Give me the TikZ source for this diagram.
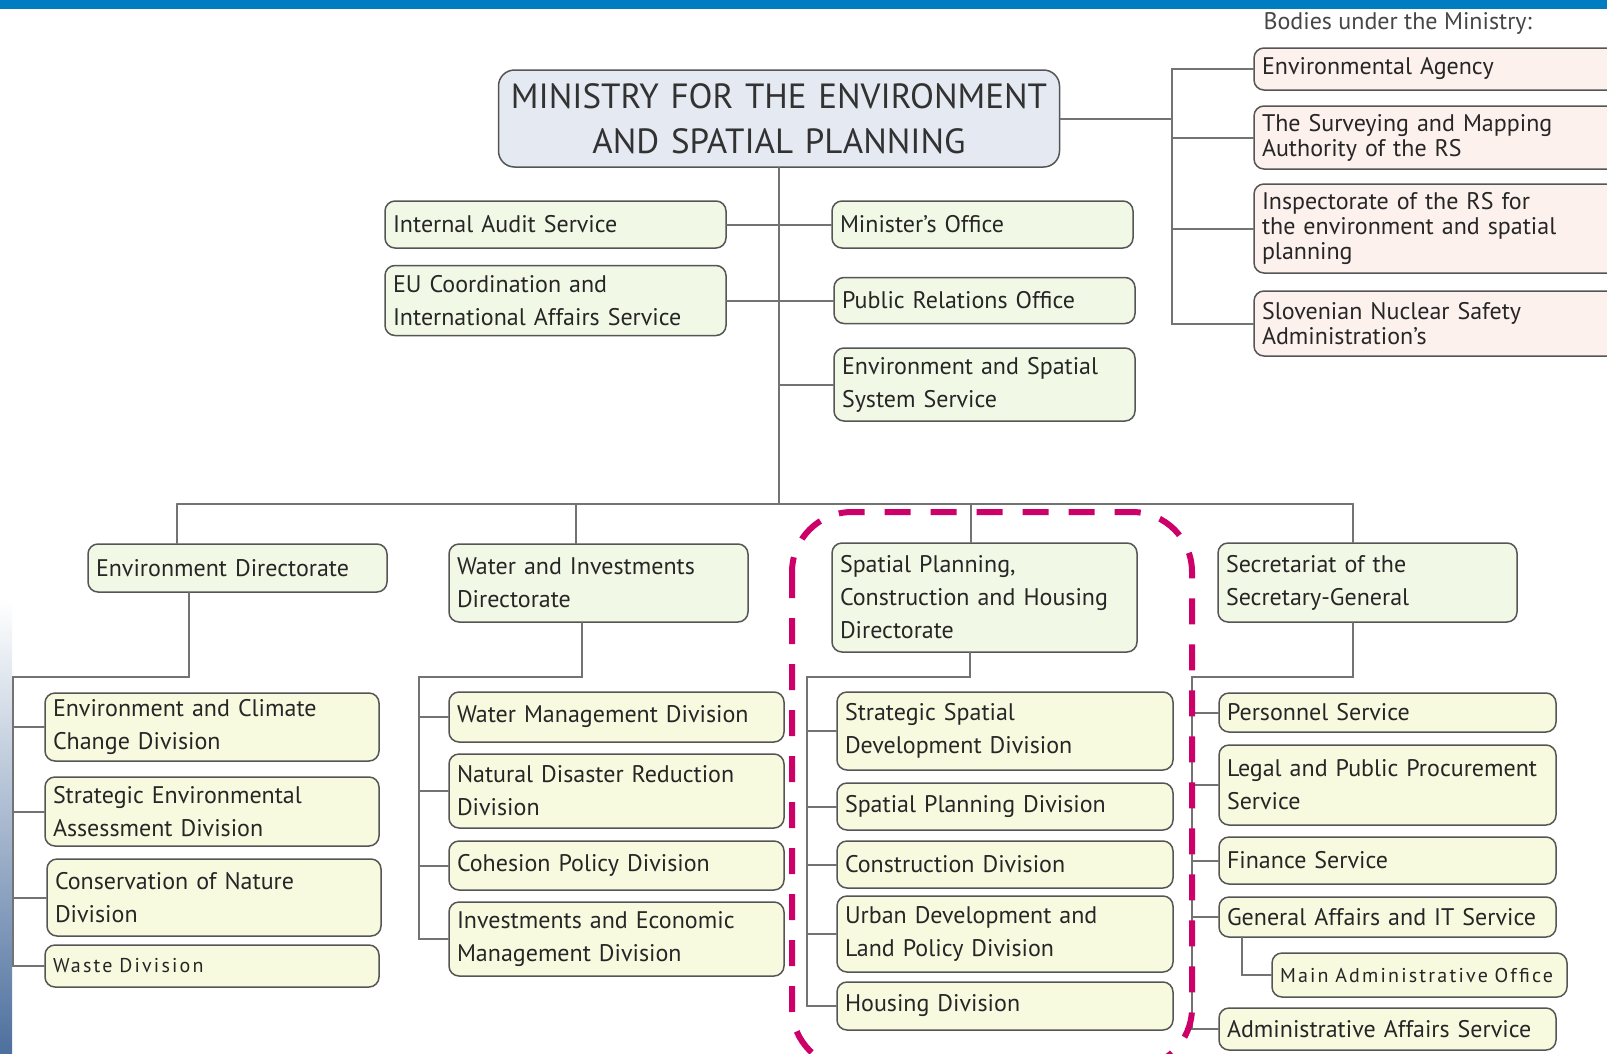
\documentclass[tikz,border=0pt]{standalone}
\usepackage{fontspec}
\setmainfont{PT Sans}
\definecolor{lan}{RGB}{0,125,192}
\definecolor{tiaolan}{RGB}{78,112,158}
\definecolor{bianhui}{RGB}{85,85,85}
\definecolor{xianhui}{RGB}{115,115,115}
\definecolor{zi}{RGB}{38,38,38}
\definecolor{buse}{RGB}{228,233,242}
\definecolor{qingse}{RGB}{242,248,230}
\definecolor{huangse}{RGB}{248,250,223}
\definecolor{fense}{RGB}{253,241,237}
\definecolor{hong}{RGB}{205,0,105}

\begin{document}
\begin{tikzpicture}[x=1pt,y=-1pt,line cap=round]
	\tikzstyle{kuang}=[draw=bianhui,line width=1.5pt,rounded corners=10pt,inner xsep=8pt,inner ysep=0pt,align=left,text=zi,font=\fontsize{24}{33}\selectfont];
	\tikzstyle{ke}=[kuang,fill=qingse];
	\tikzstyle{chu}=[kuang,fill=huangse];
	\tikzstyle{jigou}=[kuang,fill=fense,font=\fontsize{24}{25}\selectfont];
	\tikzstyle{kuan}=[font={\fontsize{20}{24}\selectfont\addfontfeature{LetterSpace=11}}];
	\tikzstyle{xian}=[draw=xianhui,line width=2pt];
	\tikzstyle{xu}=[draw=hong,line width=6pt,line cap=butt,dash pattern=on 26pt off 20pt,rounded corners=60pt];
	%% frame
	\useasboundingbox (0,0) rectangle (1607,1053);
	\clip (0,0) rectangle (1607,1053);
	\fill[white] (0,0) rectangle (1607,1053);
	\fill[lan] (0,0) rectangle (1607,9);
	\shade[top color=white,bottom color=tiaolan] (0,600) rectangle (12,1053);
	%% ministry and offices
	\node[kuang,fill=buse,align=center,rounded corners=16pt,inner xsep=0pt,text width=561pt,minimum height=97pt,text={rgb,255:red,50;green,50;blue,50},font=\fontsize{35}{45}\selectfont] (M) at (779,118.5) {MINISTRY FOR THE ENVIRONMENT\\AND SPATIAL PLANNING};
	\node[ke,text width=325pt,minimum height=47pt] (IA) at (555.5,224.5) {Internal Audit Service};
	\node[ke,text width=285pt,minimum height=47pt] (MO) at (982.5,224.5) {Minister's Office};
	\node[ke,text width=325pt,minimum height=70pt] (EU) at (555.5,300.5) {EU Coordination and\\International Affairs Service};
	\node[ke,text width=285pt,minimum height=46pt] (PR) at (984.5,300.5) {Public Relations Office};
	\node[ke,text width=285pt,minimum height=73pt] (ES) at (984.5,384.5) {Environment and Spatial\\System Service};
	%% bodies
	\node[anchor=west,text={rgb,255:red,70;green,70;blue,70},font=\fontsize{24}{25}\selectfont] (BT) at (1260,23) {Bodies under the Ministry:};
	\node[jigou,text width=370pt,minimum height=42pt] (B1) at (1447,69) {Environmental Agency};
	\node[jigou,text width=370pt,minimum height=63pt] (B2) at (1447,137.5) {The Surveying and Mapping\\Authority of the RS};
	\node[jigou,text width=370pt,minimum height=89pt] (B3) at (1447,228.5) {Inspectorate of the RS for\\the environment and spatial\\planning};
	\node[jigou,text width=370pt,minimum height=65pt] (B4) at (1447,323.5) {Slovenian Nuclear Safety\\Administration's};
	%% directorates
	\node[ke,text width=283pt,minimum height=48pt] (D1) at (237.5,568) {Environment Directorate};
	\node[ke,text width=283pt,minimum height=78pt] (D2) at (598.5,583) {Water and Investments\\Directorate};
	\node[ke,text width=289pt,minimum height=109pt] (D3) at (984.5,597.5) {Spatial Planning,\\Construction and Housing\\Directorate};
	\node[ke,text width=283pt,minimum height=79pt] (D4) at (1367.5,582.5) {Secretariat of the\\Secretary-General};
	%% divisions
	\node[chu,text width=318pt,minimum height=68pt] (D1a) at (212,727) {Environment and Climate\\Change Division};
	\node[chu,text width=318pt,minimum height=69pt] (D1b) at (212,811.5) {Strategic Environmental\\Assessment Division};
	\node[chu,text width=318pt,minimum height=77pt] (D1c) at (214,897.5) {Conservation of Nature\\Division};
	\node[chu,kuan,text width=318pt,minimum height=42pt] (D1d) at (212,966) {Waste Division};
	\node[chu,text width=319pt,minimum height=50pt] (D2a) at (616.5,717) {Water Management Division};
	\node[chu,text width=319pt,minimum height=74pt] (D2b) at (616.5,791) {Natural Disaster Reduction\\Division};
	\node[chu,text width=319pt,minimum height=49pt] (D2c) at (616.5,865.5) {Cohesion Policy Division};
	\node[chu,text width=319pt,minimum height=74pt] (D2d) at (616.5,939) {Investments and Economic\\Management Division};
	\node[chu,text width=320pt,minimum height=78pt] (D3a) at (1005,731) {Strategic Spatial\\Development Division};
	\node[chu,text width=320pt,minimum height=47pt] (D3b) at (1005,806.5) {Spatial Planning Division};
	\node[chu,text width=320pt,minimum height=47pt] (D3c) at (1005,864.5) {Construction Division};
	\node[chu,text width=320pt,minimum height=76pt] (D3d) at (1005,934) {Urban Development and\\Land Policy Division};
	\node[chu,text width=320pt,minimum height=48pt] (D3e) at (1005,1006) {Housing Division};
	\node[chu,text width=321pt,minimum height=39pt] (D4a) at (1387.5,712.5) {Personnel Service};
	\node[chu,text width=321pt,minimum height=80pt] (D4b) at (1387.5,785) {Legal and Public Procurement\\Service};
	\node[chu,text width=321pt,minimum height=47pt] (D4c) at (1387.5,860.5) {Finance Service};
	\node[chu,text width=321pt,minimum height=40pt] (D4d) at (1387.5,917) {General Affairs and IT Service};
	\node[chu,kuan,text width=279pt,minimum height=44pt] (D4e) at (1419.5,975) {Main Administrative Office};
	\node[chu,text width=321pt,minimum height=42pt] (D4f) at (1387.5,1029) {Administrative Affairs Service};
	%% connectors
	\coordinate (bus) at (779,504);
	\coordinate (BB) at (1172,118.5);
	\draw[xian] (IA) -- (MO);
	\draw[xian] (EU) -- (PR);
	\draw[xian] (M) -- (M |- bus);
	\draw[xian] (M.south |- ES) -- (ES);
	\draw[xian] (M) -- (BB);
	\foreach \b in {B1,B2,B3,B4}
		\draw[xian] (BB) |- (\b);
	\coordinate (t1) at (177,504);
	\coordinate (t2) at (576,504);
	\coordinate (t3) at (971,504);
	\coordinate (t4) at (1353,504);
	\draw[xian] (t1) -- (t4);
	\foreach \i in {1,...,4}
		\draw[xian] (t\i) -- (t\i |- D\i.north);
	\coordinate (s1) at (13,677);   \coordinate (u1) at (189,677);
	\coordinate (s2) at (419,677);  \coordinate (u2) at (582,677);
	\coordinate (s3) at (807,677);  \coordinate (u3) at (970,677);
	\coordinate (s4) at (1192,677); \coordinate (u4) at (1353,677);
	\foreach \i in {1,...,4}
		\draw[xian] (s\i) -- (u\i) -- (u\i |- D\i.south);
	\foreach \k in {D1a,D1b,D1c,D1d}
		\draw[xian] (s1) |- (\k);
	\foreach \k in {D2a,D2b,D2c,D2d}
		\draw[xian] (s2) |- (\k);
	\foreach \k in {D3a,D3b,D3c,D3d,D3e}
		\draw[xian] (s3) |- (\k);
	\foreach \k in {D4a,D4b,D4c,D4d,D4f}
		\draw[xian] (s4) |- (\k);
	\coordinate (g) at (1242,937);
	\draw[xian] (g) |- (D4e);
	%% highlight
	\draw[xu] (792,512) rectangle (1192,1068);
\end{tikzpicture}
\end{document}
